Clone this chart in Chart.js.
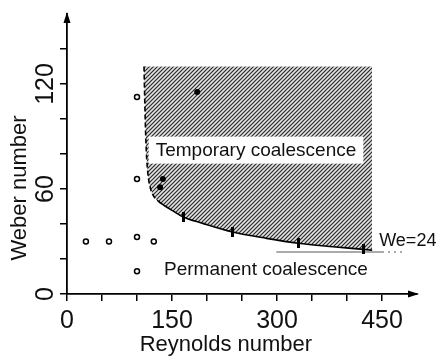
<!DOCTYPE html>
<html>
<head>
<meta charset="utf-8">
<script src="https://cdn.jsdelivr.net/npm/chart.js@4"></script>
<style>
  body { margin: 0; background: #fff; }
  #wrap { width: 438px; height: 358px; }
</style>
</head>
<body>
<div id="wrap"><canvas id="chart"></canvas></div>
<script>
// permanent coalescence runs (open circles)
const permRe = [27, 60, 100, 124, 100, 100, 100];
const permWe = [30, 30, 32.6, 30, 13, 65.7, 112.6];
// temporary coalescence runs (filled circles)
const tempRe = [186, 137, 133];
const tempWe = [115.4, 65.7, 61];
// measured transition points (error bars)
const boundRe = [166, 237, 330, 423];
const boundWe = [44, 35.4, 29, 25.5];
// transition curve bounding the temporary region
const curveRe = [110, 111, 112, 113.5, 115.5, 118.5, 123, 130, 140, 150, 166, 193, 237, 285, 330, 380, 423, 436];
const curveWe = [130, 112, 96, 80, 69, 61.5, 56.5, 53.2, 50.3, 47.8, 44, 40.5, 35.4, 31.8, 29, 27, 25.5, 25];
const regionTop = 130;
// critical Weber number line
const critRe = [299, 450, 480];
const critWe = 24;
const xLabelTicks = [0, 150, 300, 450];
const yLabelTicks = [0, 60, 120];

const FONT = "'Liberation Sans', Arial, sans-serif";

function pts(xs, ys) {
  return xs.map((x, i) => ({ x: x, y: Array.isArray(ys) ? ys[i] : ys }));
}

// diagonal hatch fill
function makeHatch() {
  const c = document.createElement('canvas');
  c.width = 4; c.height = 4;
  const g = c.getContext('2d');
  g.fillStyle = '#e2e2e2';
  g.fillRect(0, 0, 4, 4);
  g.strokeStyle = '#2a2a2a';
  g.lineWidth = 1.2;
  g.beginPath();
  g.moveTo(0, 4); g.lineTo(4, 0);
  g.moveTo(-1, 1); g.lineTo(1, -1);
  g.moveTo(3, 5); g.lineTo(5, 3);
  g.stroke();
  return g.createPattern(c, 'repeat');
}

// small vertical bar used as the error-bar marker
function makeBar() {
  const c = document.createElement('canvas');
  c.width = 3; c.height = 10;
  const g = c.getContext('2d');
  g.fillStyle = '#000';
  g.fillRect(0, 0, 3, 10);
  return c;
}

const decorations = {
  id: 'decorations',
  afterDatasetsDraw(chart) {
    const ctx = chart.ctx;
    const xs = chart.scales.x, ys = chart.scales.y;
    const area = chart.chartArea;
    ctx.save();

    // region label with white box
    ctx.font = '19px ' + FONT;
    ctx.textBaseline = 'middle';
    const t = 'Temporary coalescence';
    const tw = ctx.measureText(t).width;
    const cx = xs.getPixelForValue(270), cy = ys.getPixelForValue(82.5);
    ctx.fillStyle = '#fff';
    ctx.fillRect(cx - tw / 2 - 7, cy - 13, tw + 14, 27);
    ctx.fillStyle = '#111';
    ctx.textAlign = 'center';
    ctx.fillText(t, cx, cy + 1);

    ctx.textAlign = 'left';
    ctx.fillText('Permanent coalescence', xs.getPixelForValue(138.6), ys.getPixelForValue(13.7));
    ctx.font = '18px ' + FONT;
    ctx.fillText('We=24', xs.getPixelForValue(446), ys.getPixelForValue(30.3));

    // y tick labels, rotated
    ctx.font = '25px ' + FONT;
    ctx.textAlign = 'center';
    yLabelTicks.forEach(v => {
      ctx.save();
      ctx.translate(area.left - 21, ys.getPixelForValue(v));
      ctx.rotate(-Math.PI / 2);
      ctx.fillText(String(v), 0, 0);
      ctx.restore();
    });

    // axis titles
    ctx.font = '22px ' + FONT;
    ctx.fillText('Reynolds number', xs.getPixelForValue(227), area.bottom + 51);
    ctx.save();
    ctx.translate(area.left - 47, ys.getPixelForValue(60.6));
    ctx.rotate(-Math.PI / 2);
    ctx.fillText('Weber number', 0, 0);
    ctx.restore();

    // arrow heads on both axes
    ctx.fillStyle = '#000';
    ctx.beginPath();
    ctx.moveTo(area.right + 2, area.bottom);
    ctx.lineTo(area.right - 9, area.bottom - 3.5);
    ctx.lineTo(area.right - 9, area.bottom + 3.5);
    ctx.closePath();
    ctx.fill();
    ctx.beginPath();
    ctx.moveTo(area.left, area.top - 2);
    ctx.lineTo(area.left - 3.5, area.top + 9);
    ctx.lineTo(area.left + 3.5, area.top + 9);
    ctx.closePath();
    ctx.fill();
    ctx.restore();
  }
};

new Chart(document.getElementById('chart'), {
  type: 'scatter',
  data: {
    datasets: [
      {
        type: 'line',
        order: 5,
        data: pts(curveRe, curveWe),
        borderColor: '#000',
        borderWidth: 1.6,
        pointRadius: 0,
        cubicInterpolationMode: 'monotone',
        fill: { value: regionTop },
        backgroundColor: makeHatch(),
        segment: {
          borderDash: c => c.p1.parsed.x <= 130 ? [5, 3] : undefined
        }
      },
      {
        type: 'line',
        order: 4,
        data: pts(critRe, critWe),
        borderColor: '#555',
        borderWidth: 1,
        pointRadius: 0,
        fill: false,
        segment: {
          borderDash: c => c.p0.parsed.x >= 450 ? [2, 4] : undefined
        }
      },
      {
        order: 3,
        data: pts(boundRe, boundWe),
        pointStyle: makeBar(),
        pointRadius: 5
      },
      {
        order: 2,
        data: pts(permRe, permWe),
        pointStyle: 'circle',
        pointRadius: 2.5,
        borderWidth: 1.5,
        borderColor: '#000',
        backgroundColor: '#fff'
      },
      {
        order: 1,
        data: pts(tempRe, tempWe),
        pointStyle: 'circle',
        pointRadius: 3,
        borderWidth: 0,
        backgroundColor: '#000'
      }
    ]
  },
  options: {
    responsive: true,
    maintainAspectRatio: false,
    animation: false,
    layout: { padding: { top: 14, right: 21, left: 0, bottom: 0 } },
    plugins: { legend: { display: false }, tooltip: { enabled: false } },
    scales: {
      x: {
        type: 'linear',
        min: 0, max: 500,
        afterFit: s => { s.height = 64; },
        afterBuildTicks: s => { s.ticks = s.ticks.filter(t => t.value <= 450); },
        border: { display: true, color: '#000', width: 1.8 },
        grid: { drawOnChartArea: false, drawTicks: true, tickLength: 7, color: '#000', lineWidth: 1.5 },
        ticks: {
          stepSize: 50,
          autoSkip: false,
          maxRotation: 0,
          padding: 5,
          color: '#111',
          font: { size: 25, family: FONT },
          callback: v => xLabelTicks.includes(v) ? String(v) : ''
        }
      },
      y: {
        type: 'linear',
        min: 0, max: 160,
        afterFit: s => { s.width = 67; },
        afterBuildTicks: s => { s.ticks = s.ticks.filter(t => t.value <= 140); },
        border: { display: true, color: '#000', width: 1.8 },
        grid: { drawOnChartArea: false, drawTicks: true, tickLength: 7, color: '#000', lineWidth: 1.5 },
        ticks: { stepSize: 20, display: false }
      }
    }
  },
  plugins: [decorations]
});
</script>
</body>
</html>
